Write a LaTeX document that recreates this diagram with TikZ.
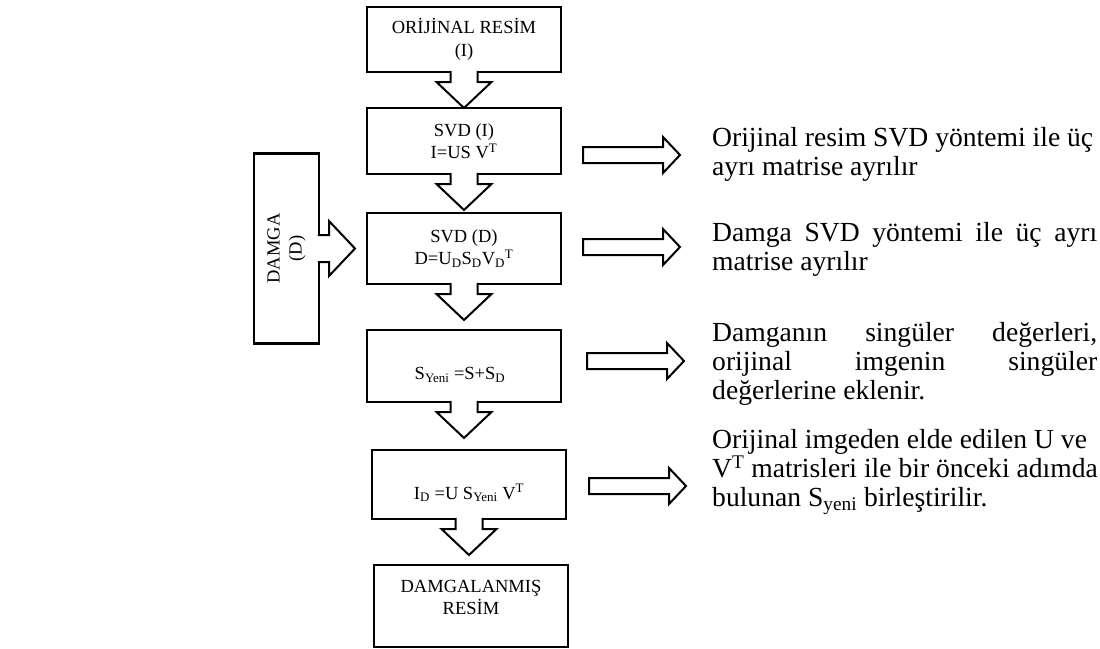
\documentclass[tikz,border=0pt]{standalone}
\usepackage{fontspec}
\setmainfont{Liberation Serif}
\usetikzlibrary{positioning}

\newcommand{\nohyph}{\hyphenpenalty 10000\relax}

\tikzset{
	pics/bigarrow/.style={code={
		\fill [white] (-1.2pt,-13.5pt) -- (10pt,-13.5pt) -- (10pt,-27.5pt) -- (36pt,0pt) -- (10pt,27.5pt) -- (10pt,13.5pt) -- (-1.2pt,13.5pt) -- cycle;
		\draw [fatline] (-1.2pt,-13.5pt) -- (10pt,-13.5pt) -- (10pt,-27.5pt) -- (36pt,0pt) -- (10pt,27.5pt) -- (10pt,13.5pt) -- (-1.2pt,13.5pt);
	}},
	pics/thinarrow/.style={code={
		\draw [fatline, fill=white] (0pt,-8pt) -- (80pt,-8pt) -- (80pt,-18pt) -- (97pt,0pt) -- (80pt,18pt) -- (80pt,8pt) -- (0pt,8pt) -- cycle;
	}}
}

\begin{document}
\begin{tikzpicture}[x=1pt, y=-1pt,
block/.style = {draw, fill=white, rectangle, line width=2.3pt, outer sep=0pt, inner sep=0pt, minimum width=194pt, align=center, font=\fontsize{18.5}{22.5}\selectfont},
boxtext/.style = {align=center, inner sep=0pt, font=\fontsize{18.5}{22}\selectfont},
note/.style = {anchor=west, inner sep=0pt, align=left, font={\fontsize{27.6}{29}\selectfont\nohyph}},
fatline/.style = {line width=2pt, line join=miter}
]

    \fill [white] (0,0) rectangle (1100,648);
    \useasboundingbox (0,0) rectangle (1100,648);

    \node [block, minimum height=65pt] (orig) at (464,39.5) {ORİJİNAL RESİM\\(I)};
    \node [block, minimum height=66pt, below=36pt of orig] (svdI) {SVD (I)\\I=US V\textsuperscript{T}};
    \node [block, minimum height=71pt, below=39pt of svdI] (svdD) {SVD (D)\\D=U\textsubscript{D}S\textsubscript{D}V\textsubscript{D}\textsuperscript{T}};
    \node [block, minimum height=72pt, below=46pt of svdD] (snew) {};
    \node [block, minimum height=69pt, below=48pt of snew, xshift=5pt] (idnew) {};
    \node [block, minimum height=82pt, below=46pt of idnew, xshift=2pt] (final) {};
    \node [block, minimum width=65pt, minimum height=190pt, left=48pt of svdD] (damga) {};

    \node [boxtext, xshift=-4pt, yshift=-9pt] (snewtxt) at (snew) {S\textsubscript{Yeni} =S+S\textsubscript{D}};
    \node [boxtext, yshift=-8.5pt] (idnewtxt) at (idnew) {I\textsubscript{D} =U S\textsubscript{Yeni} V\textsuperscript{T}};
    \node [boxtext, yshift=8.5pt] (finaltxt) at (final) {DAMGALANMIŞ\\RESİM};
    \node [boxtext, rotate=90] (damgatxt) at (damga) {DAMGA\\(D)};

    \pic [rotate=-90] at (orig.south) {bigarrow};
    \pic [rotate=-90] at (svdI.south) {bigarrow};
    \pic [rotate=-90] at (svdD.south) {bigarrow};
    \pic [rotate=-90] at (snew.south) {bigarrow};
    \pic [rotate=-90] at (idnew.south) {bigarrow};
    \pic at (damga.east) {bigarrow};

    \node [note] (note1) at (712,154.5) {Orijinal resim SVD yöntemi ile üç\\ayrı matrise ayrılır};
    \node [note, text width=385pt, align=justify] (note2) at (712,249) {Damga SVD yöntemi ile üç ayrı matrise ayrılır};
    \node [note, text width=385pt, align=justify] (note3) at (712,364) {Damganın singüler değerleri, orijinal imgenin singüler değerlerine eklenir.};
    \node [note] (note4) at (712,472) {Orijinal imgeden elde edilen U ve\\V\textsuperscript{T} matrisleri ile bir önceki adımda\\bulunan S\textsubscript{yeni} birleştirilir.};

    \pic at (583,155) {thinarrow};
    \pic at (583,247) {thinarrow};
    \pic at (587,361) {thinarrow};
    \pic at (589,486) {thinarrow};

\end{tikzpicture}
\end{document}
